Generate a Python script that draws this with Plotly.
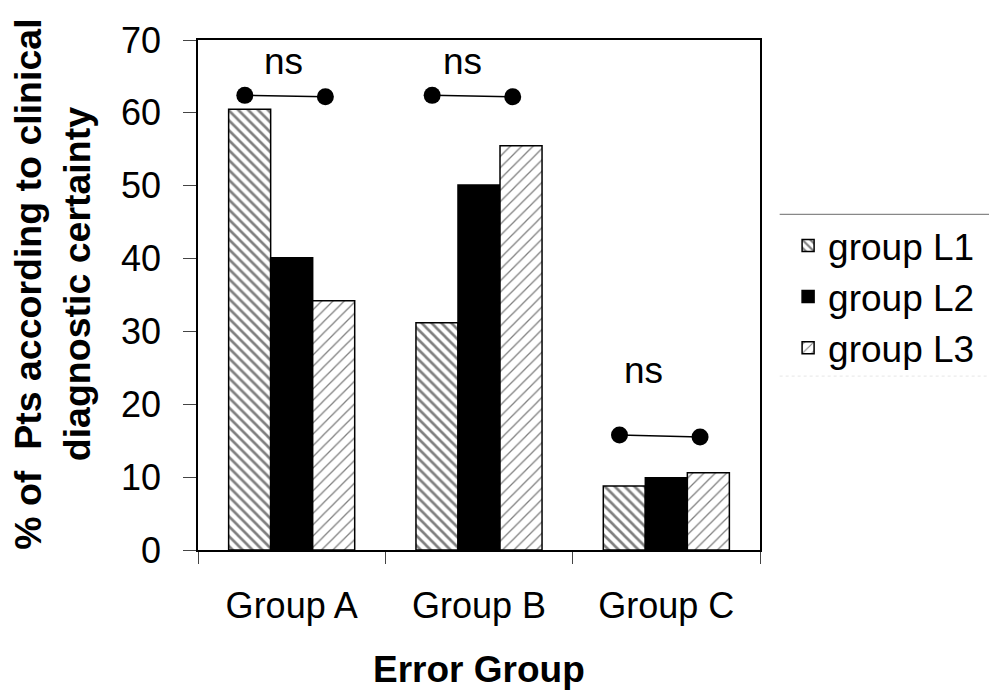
import plotly.graph_objects as go

# ---- data ----
categories = ["Group A", "Group B", "Group C"]
series_names = ["group L1", "group L2", "group L3"]
group_L1 = [60.5, 31.2, 8.8]
group_L2 = [40.1, 50.1, 9.9]
group_L3 = [34.2, 55.5, 10.6]
# "ns" comparison markers (left / right end heights)
ns_left_y = [62.4, 62.4, 15.8]
ns_right_y = [62.2, 62.2, 15.5]
ns_label = "ns"
y_ticks = [0, 10, 20, 30, 40, 50, 60, 70]

FONT = "Liberation Sans, Arial, sans-serif"
cat_idx = list(range(len(categories)))

fig = go.Figure()

styles = [
    dict(color="white", pattern=dict(shape="\\", fgcolor="black", bgcolor="white", size=7, solidity=0.38)),
    dict(color="black"),
    dict(color="white", pattern=dict(shape="/", fgcolor="black", bgcolor="white", size=8, solidity=0.16)),
]
for name, vals, st in zip(series_names, [group_L1, group_L2, group_L3], styles):
    marker = dict(color=st["color"], line=dict(color="black", width=1.5))
    if "pattern" in st:
        marker["pattern"] = st["pattern"]
    fig.add_trace(go.Bar(x=cat_idx, y=vals, name=name, marker=marker))

# significance connectors
left_off, right_off = -0.25, 0.18
xs, ys = [], []
for i in cat_idx:
    xs += [i + left_off, i + right_off, None]
    ys += [ns_left_y[i], ns_right_y[i], None]
fig.add_trace(go.Scatter(x=xs, y=ys, mode="lines+markers", showlegend=False,
                         line=dict(color="black", width=1.5),
                         marker=dict(color="black", size=17)))

ns_offsets = [-0.046, -0.09, -0.124]
ns_gap = [4.7, 4.7, 8.8]
for i in cat_idx:
    fig.add_annotation(x=i + ns_offsets[i], y=ns_left_y[i] + ns_gap[i], text=ns_label,
                       showarrow=False, font=dict(family=FONT, size=37, color="black"),
                       xanchor="center", yanchor="middle")

# axis titles
fig.add_annotation(xref="paper", yref="paper", x=0.5, y=-0.235, text="<b>Error Group</b>",
                   showarrow=False, font=dict(family=FONT, size=37, color="black"),
                   xanchor="center", yanchor="middle")
fig.add_annotation(xref="paper", yref="paper", x=-0.258, y=0.52,
                   text="<b>%&nbsp;of&nbsp;&nbsp;Pts according to clinical<br>diagnostic certainty</b>",
                   textangle=-90, showarrow=False, font=dict(family=FONT, size=37.5, color="black"),
                   xanchor="center", yanchor="middle")

# legend frame lines
fig.add_shape(type="line", xref="paper", yref="paper", x0=1.035, x1=1.43, y0=0.658, y1=0.658,
              line=dict(color="#888", width=1.2))
fig.add_shape(type="line", xref="paper", yref="paper", x0=1.035, x1=1.43, y0=0.341, y1=0.341,
              line=dict(color="#e6e6e6", width=1, dash="dot"))

fig.update_layout(
    width=989, height=686,
    margin=dict(l=190, r=237, t=24, b=144),
    paper_bgcolor="white", plot_bgcolor="white",
    barmode="group", bargap=0.327, bargroupgap=0,
    font=dict(family=FONT, color="black"),
    legend=dict(x=1.05, y=0.657, xanchor="left", yanchor="top",
                font=dict(family=FONT, size=37, color="black"),
                bgcolor="rgba(0,0,0,0)", borderwidth=0, tracegroupgap=0),
    showlegend=True,
)
fig.update_xaxes(
    range=[-0.5, 2.5], tickmode="array", tickvals=cat_idx, ticktext=categories,
    ticks="", showgrid=False, zeroline=False,
    showline=True, linecolor="black", linewidth=1.5, mirror=True,
    tickfont=dict(family=FONT, size=36, color="black"), ticklabelstandoff=23,
    minor=dict(tickmode="array", tickvals=[-0.5, 0.5, 1.5, 2.5], ticks="outside",
               ticklen=12, tickcolor="#444", tickwidth=1, showgrid=False),
)
fig.update_yaxes(
    range=[0, 70], tickmode="array", tickvals=y_ticks, ticks="outside", ticklen=13,
    tickcolor="#444", showgrid=False, zeroline=False,
    showline=True, linecolor="black", linewidth=1.5, mirror=True,
    tickfont=dict(family=FONT, size=36, color="black"), ticklabelstandoff=15,
)

fig.write_html("out.html")
